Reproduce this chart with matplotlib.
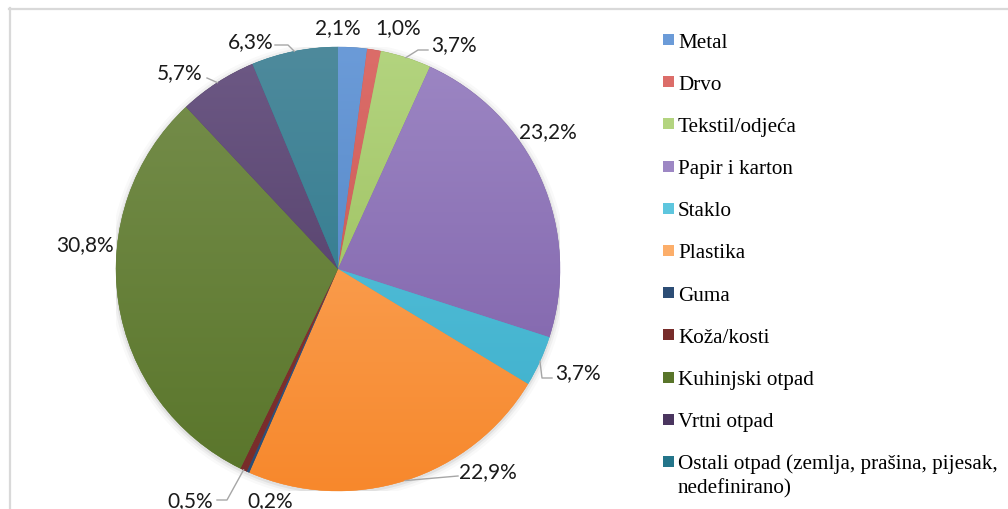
import numpy as np
import matplotlib
matplotlib.use("Agg")
import matplotlib.pyplot as plt
from matplotlib.colors import to_rgb
from matplotlib.patches import Rectangle, Circle
from matplotlib.lines import Line2D
from matplotlib import font_manager as fm

# ---- data ----
categories = ["Metal", "Drvo", "Tekstil/odjeća", "Papir i karton", "Staklo",
              "Plastika", "Guma", "Koža/kosti", "Kuhinjski otpad", "Vrtni otpad",
              "Ostali otpad (zemlja, prašina, pijesak,\nnedefinirano)"]
values = [2.1, 1.0, 3.7, 23.2, 3.7, 22.9, 0.2, 0.5, 30.8, 5.7, 6.3]
value_labels = ["2,1%", "1,0%", "3,7%", "23,2%", "3,7%", "22,9%", "0,2%",
                "0,5%", "30,8%", "5,7%", "6,3%"]

# ---- style ----
top_colors = ['#6b9bd8', '#dc6d69', '#b3d47f', '#9d87c4', '#5ec6de', '#fcae6a',
              '#3a6090', '#8f3735', '#778f4d', '#6d5985', '#4e8a9c']
bot_colors = ['#4a7ebf', '#c0504d', '#94b852', '#7a5ca6', '#3caecb', '#f7882c',
              '#2c4d75', '#772c2a', '#59752a', '#4a355f', '#23758a']

W, H = 1008, 510
fig = plt.figure(figsize=(W / 100, H / 100), dpi=100)
fig.patch.set_facecolor('white')

# chart border (top and left visible)
fig.add_artist(Line2D([9 / W, 1.0], [1 - 9.5 / H, 1 - 9.5 / H], color='#d9d9d9', lw=1.6))
fig.add_artist(Line2D([9.5 / W, 9.5 / W], [0, 1 - 9 / H], color='#d9d9d9', lw=1.6))

cx, cy, R = 338, 270, 222
ax = fig.add_axes([(cx - R) / W, (H - cy - R) / H, 2 * R / W, 2 * R / H])
ax.set_xlim(-1, 1)
ax.set_ylim(-1, 1)
ax.axis('off')

def px(x, y):
    return ((x - cx) / R, (cy - y) / R)

# soft shadow
for r, a in [(1.03, 0.025), (1.018, 0.04), (1.008, 0.06)]:
    ax.add_patch(Circle((0, -0.006), r, color='black', alpha=a, lw=0, zorder=0))

wedges, _ = ax.pie(values, startangle=90, counterclock=False, radius=1,
                   colors=bot_colors, wedgeprops=dict(linewidth=0.3))
for w, c in zip(wedges, bot_colors):
    w.set_edgecolor(c)
    w.set_zorder(1)

g = np.linspace(0, 1, 256)[:, None, None]
for w, t, b in zip(wedges, top_colors, bot_colors):
    t = np.array(to_rgb(t)); b = np.array(to_rgb(b))
    img = t * (1 - g) + b * g
    im = ax.imshow(img, extent=(-1, 1, -1, 1), origin='upper', aspect='auto',
                   zorder=2, interpolation='bilinear')
    im.set_clip_path(w)
ax.set_xlim(-1, 1)
ax.set_ylim(-1, 1)

# ---- value labels (layout positions, pixel -> data) ----
label_px = [(338, 28), (398, 28), (454, 45), (548, 132), (578, 373), (488, 472),
            (270, 501), (190, 501), (85, 245), (180, 73), (251, 42)]
for lab, (x, y) in zip(value_labels, label_px):
    ax.text(*px(x, y), lab, ha='center', va='center', fontsize=15,
            family=['Lato', 'DejaVu Sans'], color='#1a1a1a', zorder=5)

# leader lines: index -> pixel points from label side, ending at wedge edge
leaders = {10: [(275, 46), (288, 46)],
           9: [(207, 79)],
           2: [(428, 51), (418, 51)],
           4: [(552, 379), (542, 379)],
           5: [(458, 477)],
           7: [(217, 501), (227, 501)]}
for i, pts in leaders.items():
    w = wedges[i]
    mid = np.deg2rad((w.theta1 + w.theta2) / 2)
    xs = [px(*p)[0] for p in pts] + [np.cos(mid)]
    ys = [px(*p)[1] for p in pts] + [np.sin(mid)]
    ax.plot(xs, ys, color='#a6a6a6', lw=1.0, clip_on=False, zorder=4)

# ---- legend ----
serif_fp = fm.FontProperties(family=['Liberation Serif', 'DejaVu Serif'], size=15.2)
for i, lab in enumerate(categories):
    yc = 40.5 + 42.2 * i
    fig.add_artist(Rectangle((663 / W, 1 - (yc + 5.5) / H), 11 / W, 11 / H,
                             facecolor=bot_colors[i] if i >= 6 else top_colors[i],
                             edgecolor='none'))
    for j, line in enumerate(lab.split('\n')):
        fig.text(678 / W, 1 - (yc + 7 + 24 * j) / H, line, ha='left', va='baseline',
                 fontproperties=serif_fp, color='black')

fig.savefig('out.png', dpi=100, facecolor='white')
